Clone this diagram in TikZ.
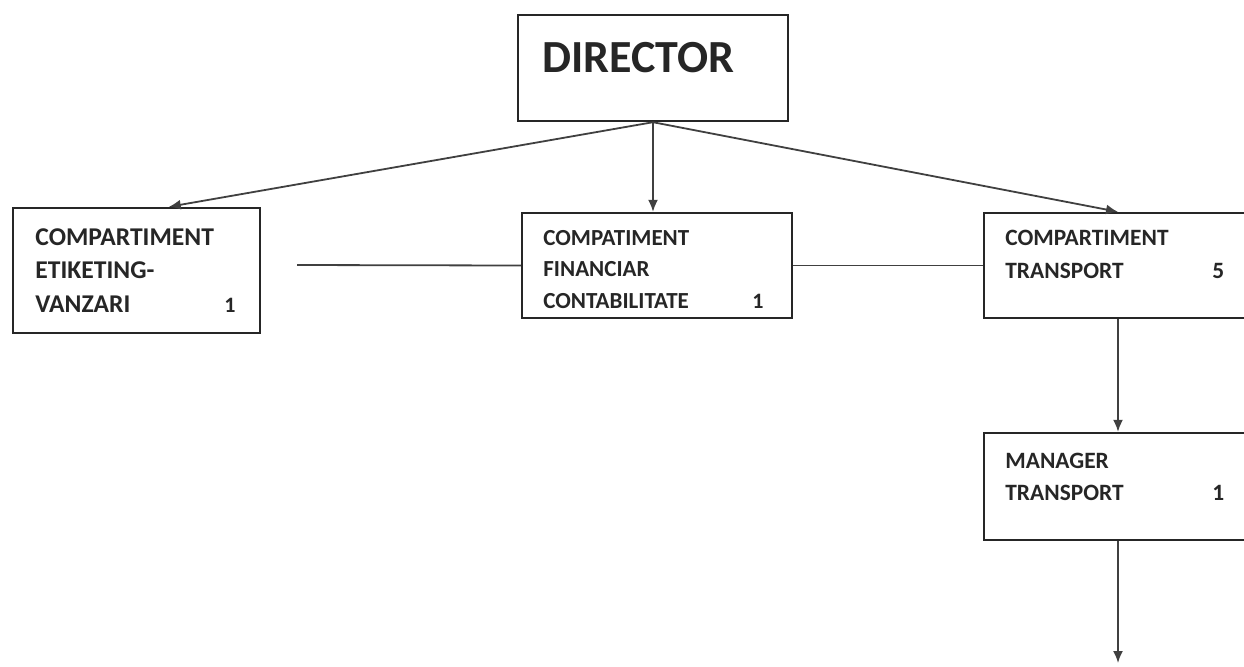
\documentclass[tikz,border=0pt]{standalone}
\usepackage{fontspec}
\setmainfont{Carlito}
\usetikzlibrary{arrows.meta, fit}

\begin{document}
\begin{tikzpicture}[x=0.5pt, y=-0.5pt,
        box/.style={draw=black!85, line width=1.2pt, inner sep=0pt},
        txt/.style={anchor=base west, inner sep=0pt, align=left, text=black!85},
        link/.style={draw=black!75, line width=0.9pt},
        arr/.style={link, -{Latex[length=6pt, width=5pt]}}]
    %\draw[lightgray] (0, 0) grid[step=50] (1244, 666);
    \clip (0, 0) rectangle (1244, 666);

    % boxes
    \node[box, fit={(518, 15) (788, 121)}] (dir) {};
    \node[box, fit={(13, 208) (260, 333)}] (etik) {};
    \node[box, fit={(522, 213) (792, 318)}] (fin) {};
    \node[box, fit={(984, 213) (1262, 318)}] (trans) {};
    \node[box, fit={(984, 433) (1262, 540)}] (mgr) {};

    % texts (anchored at the baseline of the last line)
    \node[txt, font=\fontsize{23}{26}\bfseries] (dirtxt) at (542, 72) {DIRECTOR};
    \node[txt, font=\fontsize{12.8}{16.75}\bfseries] (etiktxt) at (35, 312)
        {COMPARTIMENT\\ETIKETING-\\VANZARI};
    \node[txt, font=\fontsize{11}{16.75}\bfseries] (etiknr) at (224, 312) {1};
    \node[txt, font=\fontsize{11.5}{15.75}\bfseries] (fintxt) at (543, 308)
        {COMPATIMENT\\FINANCIAR\\CONTABILITATE};
    \node[txt, font=\fontsize{11}{15.75}\bfseries] (finnr) at (752, 308) {1};
    \node[txt, font=\fontsize{11.7}{16.5}\bfseries] (transtxt) at (1005, 278)
        {COMPARTIMENT\\TRANSPORT};
    \node[txt, font=\fontsize{11.7}{16.5}\bfseries] (transnr) at (1212, 278) {5};
    \node[txt, font=\fontsize{11.7}{16}\bfseries] (mgrtxt) at (1005, 500)
        {MANAGER\\TRANSPORT};
    \node[txt, font=\fontsize{11.7}{16}\bfseries] (mgrnr) at (1212, 500) {1};

    % connectors
    \coordinate (lstart) at (297, 265);
    \coordinate (bottom) at (1118, 663);
    \draw[arr] (dir.south) -- ([xshift=78.5pt]etik.north west);
    \draw[arr] (dir.south) -- (dir.south |- fin.north);
    \draw[arr] (dir.south) -- (bottom |- trans.north);
    \draw[arr] (bottom |- trans.south) -- (bottom |- mgr.north);
    \draw[arr] (bottom |- mgr.south) -- (bottom);
    \draw[link] (lstart) -- (fin.west);
    \draw[link] (fin.east) -- (trans.west);
\end{tikzpicture}
\end{document}
